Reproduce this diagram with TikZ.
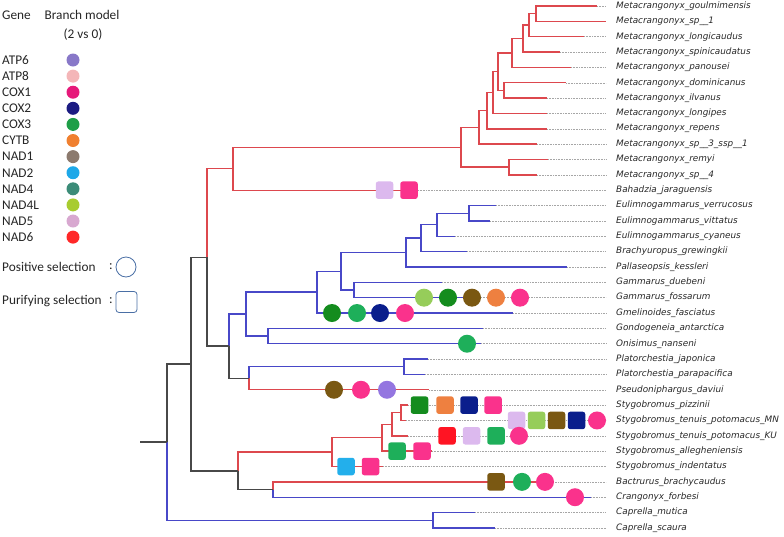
\documentclass[tikz,border=0pt]{standalone}
\usepackage{fontspec}
\setmainfont{Carlito}
\newfontfamily\labfont{DejaVu Sans}
\begin{document}
\begin{tikzpicture}[x=1pt,y=-1pt,
  rb/.style={draw=redb,line width=1.4pt},
  bb/.style={draw=blueb,line width=1.4pt},
  kb/.style={draw=blkb,line width=1.4pt},
  leafdot/.style={draw=gray!70,line width=0.5pt,dash pattern=on 0.8pt off 0.8pt},
  leaflab/.style={anchor=west,inner sep=0pt,text=labc,font=\labfont\itshape\fontsize{8.85}{10}\selectfont},
  legt/.style={anchor=west,inner sep=0pt,font=\fontsize{13.3}{15}\selectfont,text=black!85},
  legc/.style={circle,fill=#1,minimum size=13pt,inner sep=0pt},
  pc/.style={circle,fill=#1,minimum size=18pt,inner sep=0pt},
  pbx/.style={rounded corners=2.5pt,fill=#1,minimum size=17.5pt,inner sep=0pt}]
\definecolor{redb}{RGB}{221,72,78}
\definecolor{blueb}{RGB}{72,72,200}
\definecolor{blkb}{RGB}{72,72,72}
\definecolor{labc}{RGB}{40,40,40}
\definecolor{selc}{RGB}{74,111,165}
% legend colours
\definecolor{gATPsix}{RGB}{136,120,200}
\definecolor{gATPeight}{RGB}{244,182,184}
\definecolor{gCOXone}{RGB}{230,25,122}
\definecolor{gCOXtwo}{RGB}{28,28,130}
\definecolor{gCOXthree}{RGB}{30,158,72}
\definecolor{gCYTB}{RGB}{240,128,48}
\definecolor{gNADone}{RGB}{140,122,110}
\definecolor{gNADtwo}{RGB}{30,168,232}
\definecolor{gNADfour}{RGB}{60,140,120}
\definecolor{gNADfourL}{RGB}{168,204,48}
\definecolor{gNADfive}{RGB}{216,168,208}
\definecolor{gNADsix}{RGB}{255,40,40}
% tree marker colours
\definecolor{lil}{RGB}{220,185,238}
\definecolor{pnk}{RGB}{250,50,140}
\definecolor{lgr}{RGB}{150,205,90}
\definecolor{dgr}{RGB}{20,140,30}
\definecolor{mgr}{RGB}{30,175,90}
\definecolor{nav}{RGB}{10,30,140}
\definecolor{brn}{RGB}{122,88,18}
\definecolor{org}{RGB}{238,128,64}
\definecolor{pur}{RGB}{148,118,224}
\definecolor{redsix}{RGB}{255,20,35}
\definecolor{sky}{RGB}{35,175,235}

\useasboundingbox (0,0) rectangle (784,536);

% ---------------- legend ----------------
\node[legt] (hgene) at (2,15) {Gene};
\node[legt,anchor=center] (hbm) at (82,15) {Branch model};
\node[legt,anchor=center] (hvs) at (83,35) {(2 vs 0)};
\foreach \k/\g/\c in {0/ATP6/gATPsix,1/ATP8/gATPeight,2/COX1/gCOXone,3/COX2/gCOXtwo,
  4/COX3/gCOXthree,5/CYTB/gCYTB,6/NAD1/gNADone,7/NAD2/gNADtwo,8/NAD4/gNADfour,
  9/NAD4L/gNADfourL,10/NAD5/gNADfive,11/NAD6/gNADsix}{
  \node[legt] (g\k) at (2,{60+\k*16.1}) {\g};
  \node[legc=\c] (gc\k) at (73,{60+\k*16.1}) {};
}
\node[legt] (pos) at (2,267) {Positive selection};
\node[legt] (posc) at (109,267) {:};
\node[circle,draw=selc,line width=0.8pt,minimum size=20pt,inner sep=0pt] (posm) at (126,267) {};
\node[legt] (pur) at (2,301) {Purifying selection};
\node[legt] (purc) at (109,301) {:};
\node[draw=selc,line width=0.8pt,rounded corners=3pt,minimum width=21pt,minimum height=21pt,inner sep=0pt] (purm) at (126.5,302) {};

% ---------------- internal nodes ----------------
\coordinate (na) at (536,13.675);
\coordinate (nb) at (529,25.19);
\coordinate (nc) at (523,38.62);
\coordinate (nd) at (512,53.01);
\coordinate (ne) at (504,90.43);
\coordinate (nf) at (498,71.72);
\coordinate (ng) at (493,92.58);
\coordinate (nh) at (487,110.69);
\coordinate (ni) at (479,127.42);
\coordinate (nj) at (509,167.18);
\coordinate (nk) at (461,147.3);
\coordinate (nl) at (233,168.75);
\coordinate (nm) at (469,213.23);
\coordinate (nn) at (437,224.74);
\coordinate (no) at (421,238.17);
\coordinate (np) at (406,252.56);
\coordinate (nq) at (354,289.98);
\coordinate (nr) at (341,271.27);
\coordinate (ns) at (317,292.14);
\coordinate (nt) at (268,336.03);
\coordinate (nu) at (246,314.08);
\coordinate (nv) at (404,366.73);
\coordinate (nw) at (249,378.24);
\coordinate (nx) at (229,346.16);
\coordinate (ny) at (207,257.46);
\coordinate (sa) at (401,412.78);
\coordinate (sb) at (392,424.29);
\coordinate (sc) at (382,437.72);
\coordinate (sd) at (332,452.11);
\coordinate (se) at (273,489.53);
\coordinate (sf) at (238,470.82);
\coordinate (sg) at (191,364.14);
\coordinate (sh) at (433,520.23);
\coordinate (root) at (167,442.19);
\coordinate (stem) at (140,442.19);

% ---------------- leaves ----------------
\foreach \i/\tx/\pn/\c/\nm in {
1/597/na/rb/Metacrangonyx\_goulmimensis,
2/606/na/rb/Metacrangonyx\_sp\_\_1,
3/584/nb/rb/Metacrangonyx\_longicaudus,
4/560/nc/rb/Metacrangonyx\_spinicaudatus,
5/571/nd/rb/Metacrangonyx\_panousei,
6/566/ne/rb/Metacrangonyx\_dominicanus,
7/547/ne/rb/Metacrangonyx\_ilvanus,
8/547/ng/rb/Metacrangonyx\_longipes,
9/547/nh/rb/Metacrangonyx\_repens,
10/537/ni/rb/Metacrangonyx\_sp\_\_3\_ssp\_\_1,
11/548/nj/rb/Metacrangonyx\_remyi,
12/537/nj/rb/Metacrangonyx\_sp\_\_4,
13/418/nl/rb/Bahadzia\_jaraguensis,
14/496/nm/bb/Eulimnogammarus\_verrucosus,
15/490/nm/bb/Eulimnogammarus\_vittatus,
16/455/nn/bb/Eulimnogammarus\_cyaneus,
17/467/no/bb/Brachyuropus\_grewingkii,
18/567/np/bb/Pallaseopsis\_kessleri,
19/442/nq/bb/Gammarus\_duebeni,
20/470/nq/bb/Gammarus\_fossarum,
21/513/ns/bb/Gmelinoides\_fasciatus,
22/483/nt/bb/Gondogeneia\_antarctica,
23/481/nt/bb/Onisimus\_nanseni,
24/428/nv/bb/Platorchestia\_japonica,
25/425/nv/bb/Platorchestia\_parapacifica,
26/429/nw/rb/Pseudoniphargus\_daviui,
27/408/sa/rb/Stygobromus\_pizzinii,
28/406/sa/rb/Stygobromus\_tenuis\_potomacus\_MN,
29/408/sb/rb/Stygobromus\_tenuis\_potomacus\_KU,
30/432/sc/rb/Stygobromus\_allegheniensis,
31/383/sd/rb/Stygobromus\_indentatus,
32/550/se/rb/Bactrurus\_brachycaudus,
33/591/se/bb/Crangonyx\_forbesi,
34/475/sh/bb/Caprella\_mutica,
35/495/sh/bb/Caprella\_scaura}{
  \coordinate (L\i) at (\tx,{6+(\i-1)*15.35});
  \coordinate (D\i) at (606,{6+(\i-1)*15.35});
  \draw[leafdot] (L\i) -- (D\i);
  \draw[\c] (\pn) |- (L\i);
  \node[leaflab] (T\i) at (616,{6+(\i-1)*15.35}) {\nm};
}

% ---------------- internal branches ----------------
\draw[rb] (nb) |- (na);
\draw[rb] (nc) |- (nb);
\draw[rb] (nd) |- (nc);
\draw[rb] (nf) |- (nd);
\draw[rb] (nf) |- (ne);
\draw[rb] (ng) |- (nf);
\draw[rb] (nh) |- (ng);
\draw[rb] (ni) |- (nh);
\draw[rb] (nk) |- (ni);
\draw[rb] (nk) |- (nj);
\draw[rb] (nl) |- (nk);
\draw[rb] (ny) |- (nl);
\draw[bb] (nn) |- (nm);
\draw[bb] (no) |- (nn);
\draw[bb] (np) |- (no);
\draw[bb] (nr) |- (np);
\draw[bb] (nr) |- (nq);
\draw[bb] (ns) |- (nr);
\draw[bb] (nu) |- (ns);
\draw[bb] (nu) |- (nt);
\draw[bb] (nx) |- (nu);
\draw[bb] (nw) |- (nv);
\draw[kb] (nx) |- (nw);
\draw[kb] (ny) |- (nx);
\draw[rb] (sb) |- (sa);
\draw[rb] (sc) |- (sb);
\draw[rb] (sd) |- (sc);
\draw[rb] (sf) |- (sd);
\draw[kb] (sf) |- (se);
\draw[kb] (sg) |- (ny);
\draw[kb] (sg) |- (sf);
\draw[kb] (root) |- (sg);
\draw[bb] (root) |- (sh);
\draw[kb] (stem) -- (root);

% ---------------- markers ----------------
% Bahadzia
\node[pbx=lil] (m1) at (384.5,190.2) {};
\node[pbx=pnk] (m2) at (409,190.2) {};
% Gammarus fossarum
\node[pc=lgr] (m3) at (424,297.65) {};
\node[pc=dgr] (m4) at (448,297.65) {};
\node[pc=brn] (m5) at (472,297.65) {};
\node[pc=org] (m6) at (496,297.65) {};
\node[pc=pnk] (m7) at (520,297.65) {};
% Gmelinoides
\node[pc=dgr] (m8) at (332,313) {};
\node[pc=mgr] (m9) at (357,313) {};
\node[pc=nav] (m10) at (380,313) {};
\node[pc=pnk] (m11) at (405,313) {};
% Onisimus
\node[pc=mgr] (m12) at (467,343.7) {};
% Pseudoniphargus
\node[pc=brn] (m13) at (334,389.75) {};
\node[pc=pnk] (m14) at (361,389.75) {};
\node[pc=pur] (m15) at (387,389.75) {};
% pizzinii
\node[pbx=dgr] (m16) at (419.5,405.1) {};
\node[pbx=org] (m17) at (445,405.1) {};
\node[pbx=nav] (m18) at (469,405.1) {};
\node[pbx=pnk] (m19) at (493,405.1) {};
% MN
\node[pbx=lil] (m20) at (516.5,420.45) {};
\node[pbx=lgr] (m21) at (536.5,420.45) {};
\node[pbx=brn] (m22) at (556.5,420.45) {};
\node[pbx=nav] (m23) at (576.5,420.45) {};
\node[pc=pnk] (m24) at (597,420.45) {};
% KU
\node[pbx=redsix] (m25) at (447,435.8) {};
\node[pbx=lil] (m26) at (471.5,435.8) {};
\node[pbx=mgr] (m27) at (496,435.8) {};
\node[pc=pnk] (m28) at (519,435.8) {};
% allegheniensis
\node[pbx=mgr] (m29) at (397,451.15) {};
\node[pbx=pnk] (m30) at (422,451.15) {};
% indentatus
\node[pbx=sky] (m31) at (346,466.5) {};
\node[pbx=pnk] (m32) at (370.5,466.5) {};
% Bactrurus
\node[pbx=brn] (m33) at (496,481.85) {};
\node[pc=mgr] (m34) at (522,481.85) {};
\node[pc=pnk] (m35) at (545,481.85) {};
% Crangonyx
\node[pc=pnk] (m36) at (575,497.2) {};
\end{tikzpicture}
\end{document}
